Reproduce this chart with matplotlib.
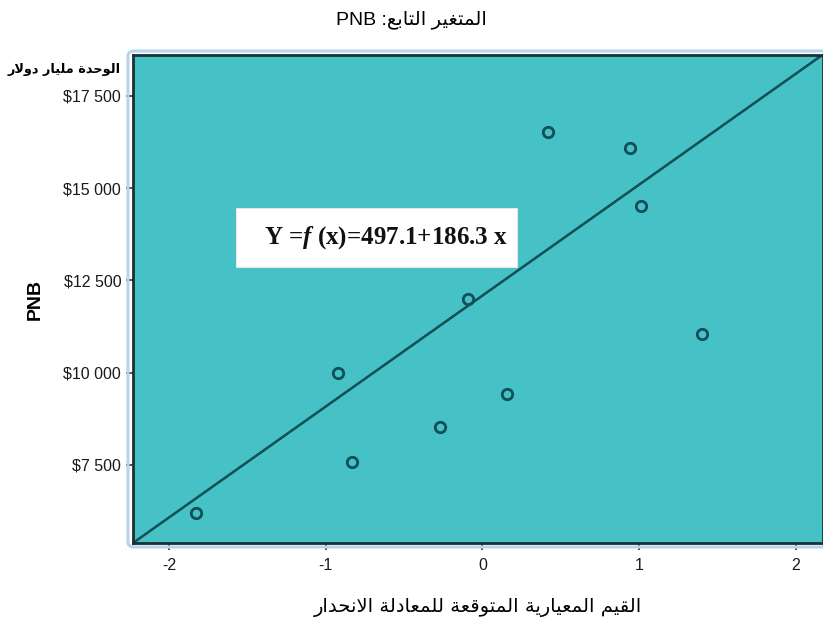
import numpy as np
import matplotlib
matplotlib.use('agg')
import matplotlib.pyplot as plt
from matplotlib.ticker import FuncFormatter
from matplotlib.patches import FancyBboxPatch, Rectangle

# data
pred_std = [-1.83, -0.92, -0.83, -0.27, -0.09, 0.16, 0.42, 0.94, 1.01, 1.40]
pnb = [6190, 9985, 7590, 8540, 11990, 9415, 16530, 16080, 14520, 11050]
line_intercept = 12090
line_slope = 3006
x_ticks = [-2, -1, 0, 1, 2]
y_ticks = [7500, 10000, 12500, 15000, 17500]

title_ar = 'المتغير التابع'
title_var = 'PNB'
xlabel_ar = 'القيم المعيارية المتوقعة للمعادلة الانحدار'
ylabel = 'PNB'
unit_ar = 'الوحدة مليار دولار'
equation = r'Y =$f$ (x)=497.1+186.3 x'

# --- minimal arabic shaping (matplotlib has no complex text layout) ---
FOUR = {'ب': 0xFE8F, 'ت': 0xFE95, 'ث': 0xFE99, 'ج': 0xFE9D, 'ح': 0xFEA1,
        'خ': 0xFEA5, 'س': 0xFEB1, 'ش': 0xFEB5, 'ص': 0xFEB9, 'ض': 0xFEBD,
        'ط': 0xFEC1, 'ظ': 0xFEC5, 'ع': 0xFEC9, 'غ': 0xFECD, 'ف': 0xFED1,
        'ق': 0xFED5, 'ك': 0xFED9, 'ل': 0xFEDD, 'م': 0xFEE1, 'ن': 0xFEE5,
        'ه': 0xFEE9, 'ي': 0xFEF1}
TWO = {'ا': 0xFE8D, 'ة': 0xFE93, 'د': 0xFEA9, 'ذ': 0xFEAB, 'ر': 0xFEAD,
       'ز': 0xFEAF, 'و': 0xFEED, 'ى': 0xFEEF, 'أ': 0xFE83, 'إ': 0xFE87,
       'آ': 0xFE81}

def shape(text):
  out = []
  i = 0
  n = len(text)
  while i < n:
    c = text[i]
    prev = text[i-1] if i > 0 else None
    joins_prev = prev in FOUR
    if c == 'ل' and i + 1 < n and text[i+1] == 'ا':
      out.append(chr(0xFEFC if joins_prev else 0xFEFB))
      i += 2
      continue
    nxt = text[i+1] if i + 1 < n else None
    joins_next = c in FOUR and (nxt in FOUR or nxt in TWO)
    if c in FOUR:
      idx = {(False, False): 0, (True, False): 1,
             (False, True): 2, (True, True): 3}[(joins_prev, joins_next)]
      out.append(chr(FOUR[c] + idx))
    elif c in TWO:
      out.append(chr(TWO[c] + (1 if joins_prev else 0)))
    else:
      out.append(c)
    i += 1
  return ''.join(out)

def rtl(text):
  return shape(text)[::-1]

plt.rcParams['font.family'] = ['Liberation Sans', 'DejaVu Sans']
plt.rcParams['axes.unicode_minus'] = False
plt.rcParams['mathtext.fontset'] = 'custom'
plt.rcParams['mathtext.it'] = 'Liberation Serif:italic:bold'
plt.rcParams['mathtext.rm'] = 'Liberation Serif:bold'

teal = '#46c1c5'
dark = '#0f4f55'

fig = plt.figure(figsize=(8.23, 6.24), dpi=100)
ax = fig.add_axes([133/823, 81/624, 690/823, 488/624])
ax.set_facecolor(teal)

xl = (-2.23, 2.174)
yl = (5386, 18611)
ax.set_xlim(xl)
ax.set_ylim(yl)

xs = np.array(xl)
ax.plot(xs, line_intercept + line_slope * xs, color=dark, lw=1.8, zorder=2)
ax.plot(pred_std, pnb, 'o', ms=7.5, mfc='none', mec=dark, mew=2, zorder=3)

ax.set_xticks(x_ticks)
ax.set_yticks(y_ticks)
ax.yaxis.set_major_formatter(FuncFormatter(lambda v, p: '${:,}'.format(int(v)).replace(',', ' ')))
ax.tick_params(colors='#333333', labelcolor='#1a1a1a', labelsize=11.5, width=1.2, length=5)
ax.tick_params(axis='x', pad=6)
for s in ax.spines.values():
  s.set_color('#1a3035')
  s.set_linewidth(2)

ax.set_ylabel(ylabel, fontsize=14, fontweight='bold', labelpad=14)
ax.set_xlabel(rtl(xlabel_ar), fontsize=14, family=['DejaVu Sans'], labelpad=18)
fig.text(0.5, 0.968, title_var + ' :' + rtl(title_ar), ha='center', va='center',
         fontsize=14, family=['Liberation Sans', 'DejaVu Sans'])
fig.text(0.009, 0.889, rtl(unit_ar), ha='left', va='center',
         fontsize=9.3, fontweight='bold', family=['DejaVu Sans'])

# light blue outer frame
frame = FancyBboxPatch((128/823, 77/624), 730/823, 496/624,
                       boxstyle='round,pad=0,rounding_size=0.008',
                       transform=fig.transFigure, fill=False,
                       ec='#b9d2ee', lw=2.2, zorder=0)
fig.patches.append(frame)

# equation box
ax.add_patch(Rectangle((0.149, 0.566), 0.407, 0.121, transform=ax.transAxes,
                       fc='white', ec='#e6e6e6', lw=0.8, zorder=4))
ax.text(0.366, 0.625, equation, transform=ax.transAxes, ha='center', va='center',
        fontsize=18, family='Liberation Serif', fontweight='bold',
        color='#111111', zorder=5)

fig.savefig('out.png', dpi=100)
